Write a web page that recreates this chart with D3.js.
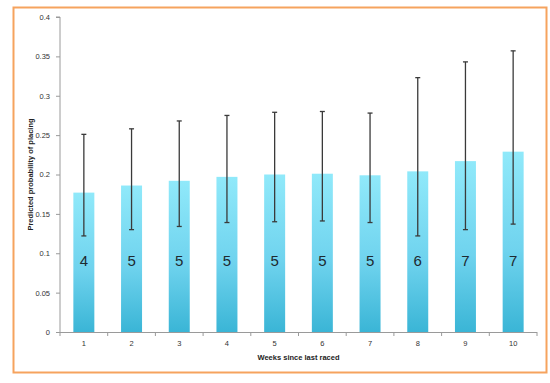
<!DOCTYPE html>
<html>
<head>
<meta charset="utf-8">
<script src="https://cdn.jsdelivr.net/npm/d3@7"></script>
<style>
  html, body { margin: 0; padding: 0; background: #fff; }
  svg { display: block; }
</style>
</head>
<body>
<svg id="chart" width="550" height="383"></svg>
<script>
const weeks = ["1", "2", "3", "4", "5", "6", "7", "8", "9", "10"];
const probability = [0.177, 0.186, 0.192, 0.197, 0.200, 0.201, 0.199, 0.204, 0.217, 0.229];
const upper = [0.251, 0.258, 0.268, 0.275, 0.279, 0.280, 0.278, 0.323, 0.343, 0.357];
const lower = [0.122, 0.130, 0.134, 0.139, 0.140, 0.141, 0.139, 0.122, 0.130, 0.137];
const barLabels = ["4", "5", "5", "5", "5", "5", "5", "6", "7", "7"];
const yTicks = [0, 0.05, 0.1, 0.15, 0.2, 0.25, 0.3, 0.35, 0.4];
const yTickLabels = ["0", "0.05", "0.1", "0.15", "0.2", "0.25", "0.3", "0.35", "0.4"];

(function () {
const svg = d3.select("#chart");
const font = "'Liberation Sans', Arial, sans-serif";

// frame
svg.append("rect")
  .attr("x", 13.5).attr("y", 7.5).attr("width", 533).attr("height", 365)
  .attr("fill", "#fff").attr("stroke", "#f6a35e").attr("stroke-width", 2);

const mLeft = 60, mRight = 537, mTop = 17, mBottom = 332;
const x = d3.scaleBand().domain(weeks).range([mLeft, mRight]).paddingInner(0.56).paddingOuter(0.28);
const xEdge = d3.scaleLinear().domain([0, weeks.length]).range([mLeft, mRight]);
const y = d3.scaleLinear().domain([0, 0.4]).range([mBottom, mTop]);

const defs = svg.append("defs");
const grad = defs.append("linearGradient").attr("id", "barGrad")
  .attr("x1", 0).attr("y1", 0).attr("x2", 0).attr("y2", 1);
grad.append("stop").attr("offset", "0%").attr("stop-color", "#90e9fa");
grad.append("stop").attr("offset", "55%").attr("stop-color", "#6fd3ee");
grad.append("stop").attr("offset", "100%").attr("stop-color", "#3ab5d6");

// bars
svg.append("g").selectAll("rect")
  .data(weeks)
  .join("rect")
  .attr("x", d => x(d))
  .attr("width", x.bandwidth())
  .attr("y", (d, i) => y(probability[i]))
  .attr("height", (d, i) => y(0) - y(probability[i]))
  .attr("fill", "url(#barGrad)");

// bar labels
svg.append("g").selectAll("text")
  .data(weeks)
  .join("text")
  .attr("x", d => x(d) + x.bandwidth() / 2)
  .attr("y", y(0.0835))
  .attr("text-anchor", "middle")
  .attr("font-family", font)
  .attr("font-size", 15)
  .attr("fill", "#1e2a30")
  .text((d, i) => barLabels[i]);

// error bars
const eg = svg.append("g").attr("stroke", "#3a3a3a").attr("stroke-width", 1.3);
weeks.forEach((d, i) => {
  const cx = x(d) + x.bandwidth() / 2;
  eg.append("line").attr("x1", cx).attr("x2", cx).attr("y1", y(upper[i])).attr("y2", y(lower[i]));
  eg.append("line").attr("x1", cx - 2.5).attr("x2", cx + 2.5).attr("y1", y(upper[i])).attr("y2", y(upper[i]));
  eg.append("line").attr("x1", cx - 2.5).attr("x2", cx + 2.5).attr("y1", y(lower[i])).attr("y2", y(lower[i]));
});

// y axis
const yAxis = d3.axisLeft(y).tickValues(yTicks)
  .tickFormat((d, i) => yTickLabels[i]).tickSize(4).tickPadding(6);
const yg = svg.append("g").attr("transform", `translate(${mLeft},0)`).call(yAxis);
yg.select(".domain").attr("stroke", "#9a9a9a").attr("d", `M-4,${mTop}H0V${mBottom}`);
yg.selectAll(".tick line").attr("stroke", "#9a9a9a");
yg.selectAll(".tick text").attr("font-family", font).attr("font-size", 7.5).attr("fill", "#333");

// x axis
const xg = svg.append("g");
xg.append("line").attr("x1", mLeft).attr("x2", mRight).attr("y1", mBottom + 0.5).attr("y2", mBottom + 0.5)
  .attr("stroke", "#9a9a9a");
xg.selectAll("line.tk").data(d3.range(weeks.length + 1)).join("line").attr("class", "tk")
  .attr("x1", d => xEdge(d)).attr("x2", d => xEdge(d))
  .attr("y1", mBottom).attr("y2", mBottom + 4).attr("stroke", "#9a9a9a");
xg.selectAll("text").data(weeks).join("text")
  .attr("x", d => x(d) + x.bandwidth() / 2)
  .attr("y", mBottom + 14)
  .attr("text-anchor", "middle")
  .attr("font-family", font).attr("font-size", 7.5).attr("fill", "#333")
  .text(d => d);

// titles
svg.append("text")
  .attr("x", (mLeft + mRight) / 2).attr("y", 360)
  .attr("text-anchor", "middle")
  .attr("font-family", font).attr("font-size", 7.5).attr("font-weight", "bold").attr("fill", "#222")
  .text("Weeks since last raced");

svg.append("text")
  .attr("transform", `translate(33,${(mTop + mBottom) / 2}) rotate(-90)`)
  .attr("text-anchor", "middle")
  .attr("font-family", font).attr("font-size", 7.5).attr("font-weight", "bold").attr("fill", "#222")
  .text("Predicted probability of placing");
})();
</script>
</body>
</html>
